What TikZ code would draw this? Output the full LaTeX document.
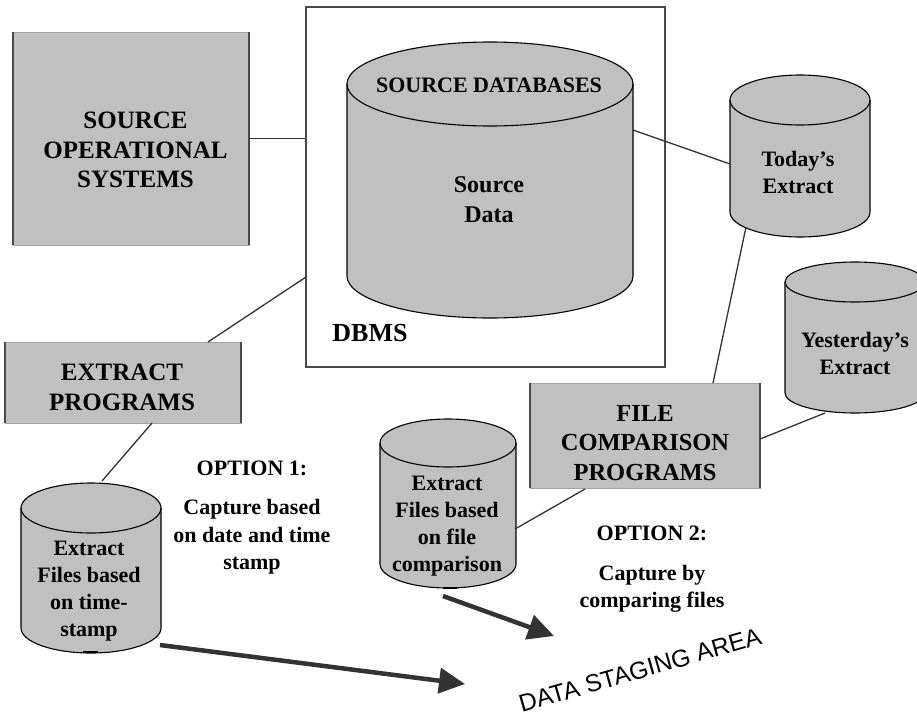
\documentclass[tikz,border=0pt]{standalone}
\usepackage{fontspec}
\setmainfont{Liberation Serif}
\newfontfamily\arialf{Liberation Sans}
\usetikzlibrary{arrows.meta}
\definecolor{boxgray}{HTML}{C0C0C0}
\definecolor{linegray}{HTML}{333333}
\definecolor{edgegray}{HTML}{4A4A4A}
\newcommand\dbcyl[5]{%
  \fill[boxgray] (#1-#4,-#2) -- (#1-#4,-#3) arc[start angle=180,end angle=360,x radius=#4pt,y radius=#5pt] -- (#1+#4,-#2) arc[start angle=0,end angle=180,x radius=#4pt,y radius=#5pt] -- cycle;
  \draw[cylline] (#1-#4,-#2) -- (#1-#4,-#3) arc[start angle=180,end angle=360,x radius=#4pt,y radius=#5pt] -- (#1+#4,-#2);
  \draw[cylline] (#1,-#2) ellipse[x radius=#4pt,y radius=#5pt];
}
\begin{document}
\begin{tikzpicture}[x=1pt,y=1pt,
  cylline/.style={draw=black,line width=1.1pt},
  graybox/.style={fill=boxgray,draw=boxgray!85!black,line width=0.6pt,inner sep=0pt},
  sidelines/.style={draw=edgegray,line width=2.2pt},
  conn/.style={draw=linegray,line width=1.3pt},
  bigarrow/.style={draw=linegray,line width=4.5pt,-{Triangle[length=26pt,width=25pt]}},
  boxtext/.style={font=\bfseries\fontsize{25}{29.5}\selectfont,align=center,inner sep=0pt},
  cyltext/.style={font=\bfseries\fontsize{22}{27}\selectfont,align=center,inner sep=0pt},
  opttext/.style={font=\bfseries\fontsize{22}{27.5}\selectfont,align=center,inner sep=0pt}]
\useasboundingbox (0,0) rectangle (917,-717);
\fill[white] (0,0) rectangle (917,-717);

% DBMS frame
\node[draw=edgegray,fill=white,line width=1.5pt,minimum width=359pt,minimum height=360pt,inner sep=0pt] (dbms) at (485.5,-187) {};

% boxes
\node[graybox,minimum width=236pt,minimum height=213pt] (sos) at (131,-138.5) {};
\draw[sidelines] (sos.north west) -- (sos.south west) (sos.north east) -- (sos.south east);
\node[boxtext] (sosT) at (135.5,-150) {SOURCE\\OPERATIONAL\\SYSTEMS};

\node[graybox,minimum width=236pt,minimum height=81pt] (extp) at (123,-382.5) {};
\draw[sidelines] (extp.north west) -- (extp.south west) (extp.north east) -- (extp.south east);
\node[boxtext] (extpT) at (122,-387.5) {EXTRACT\\PROGRAMS};

\node[graybox,minimum width=230pt,minimum height=105pt] (fcp) at (645,-435.5) {};
\draw[sidelines] (fcp.north west) -- (fcp.south west) (fcp.north east) -- (fcp.south east);
\node[boxtext,font=\bfseries\fontsize{24.5}{29.5}\selectfont] (fcpT) at (645,-443) {FILE\\COMPARISON\\PROGRAMS};

% cylinders
\dbcyl{490}{84}{276}{143}{42}
\dbcyl{800}{100}{212}{70}{25}
\dbcyl{855}{282}{393}{70}{20}
\dbcyl{448}{443}{564}{68}{24}
\dbcyl{91}{508}{628}{70}{25}
\draw[black,line width=2pt] (83,-652) -- (98,-652);
\draw[black,line width=2pt] (443,-588) -- (457,-588);

\node[cyltext] (srcdbT) at (489,-85) {SOURCE DATABASES};
\node[boxtext,font=\bfseries\fontsize{24}{30}\selectfont] (srcdata) at (489,-200) {Source\\Data};
\node[boxtext,font=\bfseries\fontsize{26}{30}\selectfont] (dbmsT) at (370,-333) {DBMS};
\node[cyltext] (today) at (798,-172) {Today’s\\Extract};
\node[cyltext] (yest) at (855,-353) {Yesterday’s\\Extract};
\node[cyltext] (efc) at (447,-526) {Extract\\Files based\\on file\\comparison};
\node[cyltext] (efts) at (89,-591.5) {Extract\\Files based\\on time-\\stamp};

\node[opttext] (opt1) at (252,-468) {OPTION 1:};
\node[opttext] (cap1) at (252,-537) {Capture based\\on date and time\\stamp};
\node[opttext] (opt2) at (652,-533) {OPTION 2:};
\node[opttext] (cap2) at (652,-589) {Capture by\\comparing files};

\node[font=\arialf\fontsize{24.5}{28}\selectfont,inner sep=0pt,rotate=16] (dsa) at (640,-670) {DATA STAGING AREA};

% connector end points
\coordinate (dbmsL) at (306,-277);
\coordinate (extpTop) at (208,-342);
\coordinate (srcR) at (633,-130);
\coordinate (todayL) at (730,-164);
\coordinate (todayB) at (746,-227);
\coordinate (fcpTop) at (713,-383);
\coordinate (fcpR) at (760,-439);
\coordinate (yestB) at (825,-413);
\coordinate (fcpB) at (585,-489);
\coordinate (efcR) at (515,-529);
\coordinate (extpB) at (152,-423);
\coordinate (eftsTop) at (102,-481);
\coordinate (a1s) at (160,-645);
\coordinate (a1e) at (465,-684);
\coordinate (a2s) at (443,-596);
\coordinate (a2e) at (554,-636);

\draw[conn] (sos.east) -- (sos.east -| dbms.west);
\draw[conn] (dbmsL) -- (extpTop);
\draw[conn] (srcR) -- (todayL);
\draw[conn] (todayB) -- (fcpTop);
\draw[conn] (fcpR) -- (yestB);
\draw[conn] (fcpB) -- (efcR);
\draw[conn] (extpB) -- (eftsTop);

\draw[bigarrow] (a1s) -- (a1e);
\draw[bigarrow] (a2s) -- (a2e);
\end{tikzpicture}
\end{document}
